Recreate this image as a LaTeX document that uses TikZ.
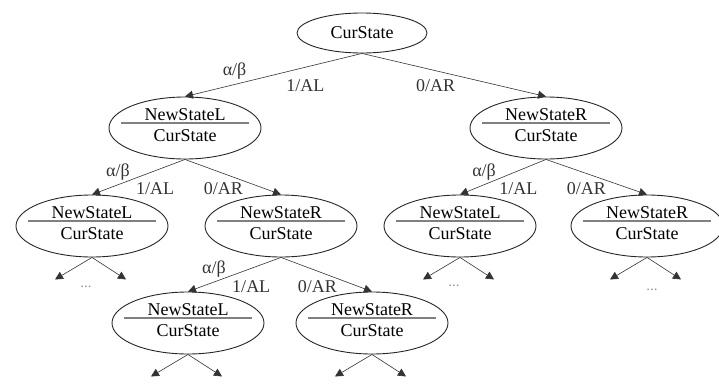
\documentclass[tikz,border=0pt]{standalone}
\usepackage{fontspec}
\setmainfont{Liberation Serif}
\usetikzlibrary{arrows.meta,shapes.geometric}
\begin{document}
\begin{tikzpicture}[x=1pt, y=-1pt,
  every node/.style={font=\fontsize{18}{21}\selectfont},
  st/.style={draw=black!85, ellipse, line width=0.9pt, minimum width=152pt, minimum height=62pt,
    inner sep=0pt, align=center,
    path picture={\draw[gray, line width=1.8pt]
      ([xshift=-64pt, yshift=5pt]path picture bounding box.center) --
      ([xshift=64pt, yshift=5pt]path picture bounding box.center);}},
  arr/.style={-{Triangle[length=8pt, width=8pt]}, line width=0.6pt, black!80},
  up/.style={pos=0.72, above=3.5pt, inner sep=1pt},
  dl/.style={pos=0.32, below=11pt, inner sep=1pt},
  dr/.style={pos=0.4, below=8pt, inner sep=1pt},
  dots/.style={text=gray!80, font=\fontsize{15}{17}\selectfont}]
\useasboundingbox (0,0) rectangle (719,383);
% tree of states
\node[draw=black!85, ellipse, line width=0.9pt, minimum width=130pt, minimum height=40pt] (root) at (362,33) {CurState};
\node[st] (l) at (185,128) {NewStateL\\CurState\strut};
\node[st] (r) at (546,128) {NewStateR\\CurState\strut};
\node[st] (ll) at (92,226) {NewStateL\\CurState\strut};
\node[st] (lr) at (281,226) {NewStateR\\CurState\strut};
\node[st] (rl) at (460,226) {NewStateL\\CurState\strut};
\node[st] (rr) at (647,226) {NewStateR\\CurState\strut};
\node[st] (lrl) at (188,323) {NewStateL\\CurState\strut};
\node[st] (lrr) at (372,323) {NewStateR\\CurState\strut};
% branches
\foreach \p/\a/\b in {root/l/r, l/ll/lr, r/rl/rr, lr/lrl/lrr} {
  \draw[arr] (\p.south) -- (\a.north) node[up] {α/β} node[dl] {1/AL};
  \draw[arr] (\p.south) -- (\b.north) node[dr] {0/AR};
}
% open ends
\foreach \n in {ll, rl, rr, lrl, lrr} {
  \path (\n.south) ++(-37,22) coordinate (\n-a) (\n.south) ++(34,22) coordinate (\n-b);
  \draw[arr] (\n.south) -- (\n-a);
  \draw[arr] (\n.south) -- (\n-b);
}
\node[dots] (lldots) at (86,287) {...};
\node[dots] (rldots) at (454,286) {...};
\node[dots] (rrdots) at (652,290) {...};
\end{tikzpicture}
\end{document}
